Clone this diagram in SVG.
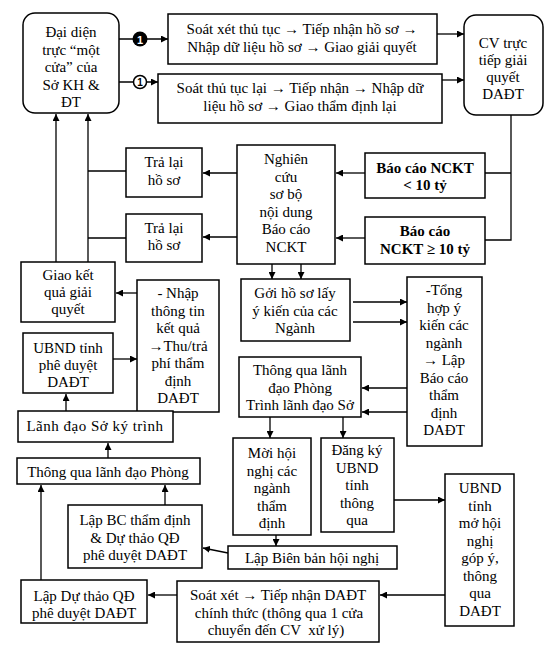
<svg xmlns="http://www.w3.org/2000/svg" width="550" height="650" viewBox="0 0 550 650">
<style>
.b{fill:#fff;stroke:#000;stroke-width:1.5}
.t{font-family:"Liberation Serif","Times New Roman",serif;font-size:15px;fill:#000;text-anchor:middle}
.bd{font-weight:bold}
.c{fill:none;stroke:#000;stroke-width:1.3}
</style>
<defs>
<marker id="ah" markerUnits="userSpaceOnUse" markerWidth="8" markerHeight="7" refX="7" refY="3.5" orient="auto">
<path d="M0,0 L7,3.5 L0,7 z" fill="#000"/>
</marker>
</defs>
<rect width="550" height="650" fill="#fff"/>

<g id="connectors">
<path class="c" d="M119,39 H168" marker-end="url(#ah)"/>
<path class="c" d="M119,82 H158" marker-end="url(#ah)"/>
<path class="c" d="M437,34 H464" marker-end="url(#ah)"/>
<path class="c" d="M442,80 H464" marker-end="url(#ah)"/>
<path class="c" d="M511,115 V240 H485 M511,173 H485"/>
<path class="c" d="M365,173 H336" marker-end="url(#ah)"/>
<path class="c" d="M365,238 H336" marker-end="url(#ah)"/>
<path class="c" d="M237,173 H203" marker-end="url(#ah)"/>
<path class="c" d="M237,237 H203" marker-end="url(#ah)"/>
<path class="c" d="M126,171 H88 M126,238 H88"/>
<path class="c" d="M56,262 V114" marker-end="url(#ah)"/>
<path class="c" d="M88,262 V114" marker-end="url(#ah)"/>
<path class="c" d="M137,293 H116" marker-end="url(#ah)"/>
<path class="c" d="M113,359 H137" marker-end="url(#ah)"/>
<path class="c" d="M66,411 V394" marker-end="url(#ah)"/>
<path class="c" d="M108,458 V443" marker-end="url(#ah)"/>
<path class="c" d="M165,505 V485" marker-end="url(#ah)"/>
<path class="c" d="M41,580 V485" marker-end="url(#ah)"/>
<path class="c" d="M177,595 H148" marker-end="url(#ah)"/>
<path class="c" d="M445,595 H380" marker-end="url(#ah)"/>
<path class="c" d="M228,553 L203,548" marker-end="url(#ah)"/>
<path class="c" d="M276,535 V546" marker-end="url(#ah)"/>
<path class="c" d="M394,500 H445" marker-end="url(#ah)"/>
<path class="c" d="M270,417 V438" marker-end="url(#ah)"/>
<path class="c" d="M343,417 V438" marker-end="url(#ah)"/>
<path class="c" d="M407,388 H362" marker-end="url(#ah)"/>
<path class="c" d="M407,412 H362" marker-end="url(#ah)"/>
<path class="c" d="M353,302 H407" marker-end="url(#ah)"/>
<path class="c" d="M353,322 H407" marker-end="url(#ah)"/>
<path class="c" d="M272,264 V279" marker-end="url(#ah)"/>
<path class="c" d="M301,264 V279" marker-end="url(#ah)"/>
<circle cx="140" cy="39" r="7.5" fill="#000"/>
<text x="140" y="43.5" font-family="Liberation Sans,Arial,sans-serif" font-size="11" font-weight="bold" fill="#fff" text-anchor="middle">1</text>
<circle cx="140" cy="82" r="6.5" fill="#fff" stroke="#000" stroke-width="1.5"/>
<text x="140" y="86" font-family="Liberation Sans,Arial,sans-serif" font-size="10" font-weight="bold" fill="#000" text-anchor="middle">1</text>
</g>

<g id="dai-dien">
<rect class="b" x="23" y="13" width="96" height="100" rx="12"/>
<text class="t" x="71" y="37">Đại diện</text>
<text class="t" x="71" y="54.5">trực “một</text>
<text class="t" x="71" y="72">cửa” của</text>
<text class="t" x="71" y="89.5">Sở KH &amp;</text>
<text class="t" x="71" y="107">ĐT</text>
</g>

<g id="soat-xet-1">
<rect class="b" x="168" y="14" width="269" height="50"/>
<text class="t" x="302" y="34">Soát xét thủ tục → Tiếp nhận hồ sơ →</text>
<text class="t" x="302" y="52">Nhập dữ liệu hồ sơ → Giao giải quyết</text>
</g>

<g id="soat-xet-2">
<rect class="b" x="158" y="74" width="284" height="49"/>
<text class="t" x="300" y="93">Soát thủ tục lại → Tiếp nhận → Nhập dữ</text>
<text class="t" x="300" y="111">liệu hồ sơ → Giao thẩm định lại</text>
</g>

<g id="cv-truc">
<rect class="b" x="464" y="15" width="79" height="100" rx="12"/>
<text class="t" x="503" y="48">CV trực</text>
<text class="t" x="503" y="65">tiếp giải</text>
<text class="t" x="503" y="82">quyết</text>
<text class="t" x="503" y="99">DAĐT</text>
</g>

<g id="bao-cao-duoi">
<rect class="b" x="365" y="153" width="120" height="45"/>
<text class="t bd" x="425" y="173">Báo cáo NCKT</text>
<text class="t bd" x="425" y="190">&lt; 10 tỷ</text>
</g>

<g id="bao-cao-tren">
<rect class="b" x="365" y="217" width="120" height="47"/>
<text class="t bd" x="425" y="236">Báo cáo</text>
<text class="t bd" x="425" y="254">NCKT ≥ 10 tỷ</text>
</g>

<g id="nghien-cuu">
<rect class="b" x="237" y="145" width="98" height="119"/>
<text class="t" x="286" y="164">Nghiên</text>
<text class="t" x="286" y="181.5">cứu</text>
<text class="t" x="286" y="199">sơ bộ</text>
<text class="t" x="286" y="216.5">nội dung</text>
<text class="t" x="286" y="234">Báo cáo</text>
<text class="t" x="286" y="251.5">NCKT</text>
</g>

<g id="tra-lai-1">
<rect class="b" x="126" y="148" width="76" height="49"/>
<text class="t" x="164" y="167">Trả lại</text>
<text class="t" x="164" y="185">hồ sơ</text>
</g>

<g id="tra-lai-2">
<rect class="b" x="126" y="214" width="76" height="48"/>
<text class="t" x="164" y="233">Trả lại</text>
<text class="t" x="164" y="250">hồ sơ</text>
</g>

<g id="giao-ket-qua">
<rect class="b" x="21" y="262" width="94" height="60"/>
<text class="t" x="68" y="280">Giao kết</text>
<text class="t" x="68" y="297">quả giải</text>
<text class="t" x="68" y="314">quyết</text>
</g>

<g id="nhap-thong-tin">
<rect class="b" x="137" y="280" width="82" height="132"/>
<text class="t" x="178" y="298">- Nhập</text>
<text class="t" x="178" y="315.5">thông tin</text>
<text class="t" x="178" y="333">kết quả</text>
<text class="t" x="178" y="350.5">→Thu/trả</text>
<text class="t" x="178" y="368">phí thẩm</text>
<text class="t" x="178" y="385.5">định</text>
<text class="t" x="178" y="403">DAĐT</text>
</g>

<g id="ubnd-phe-duyet">
<rect class="b" x="23" y="333" width="90" height="60"/>
<text class="t" x="68" y="353">UBND tỉnh</text>
<text class="t" x="68" y="370">phê duyệt</text>
<text class="t" x="68" y="387">DAĐT</text>
</g>

<g id="lanh-dao-so">
<rect class="b" x="18" y="411" width="155" height="31"/>
<text class="t" x="95" y="431" letter-spacing="0.5">Lãnh đạo Sở ký trình</text>
</g>

<g id="thong-qua-phong">
<rect class="b" x="17" y="458" width="183" height="26"/>
<text class="t" x="108" y="476.5">Thông qua lãnh đạo Phòng</text>
</g>

<g id="lap-bc">
<rect class="b" x="68" y="505" width="134" height="63"/>
<text class="t" x="135" y="525">Lập BC thẩm định</text>
<text class="t" x="135" y="543">&amp; Dự thảo QĐ</text>
<text class="t" x="135" y="560">phê duyệt DAĐT</text>
</g>

<g id="lap-du-thao">
<rect class="b" x="21" y="580" width="126" height="43"/>
<text class="t" x="84" y="601">Lập Dự thảo QĐ</text>
<text class="t" x="84" y="618">phê duyệt DAĐT</text>
</g>

<g id="soat-xet-chinh-thuc">
<rect class="b" x="177" y="581" width="202" height="61"/>
<text class="t" x="278" y="600">Soát xét → Tiếp nhận DAĐT</text>
<text class="t" x="279" y="618">chính thức (thông qua 1 cửa</text>
<text class="t" x="276" y="635" xml:space="preserve">chuyển đến CV  xử lý)</text>
</g>

<g id="lap-bien-ban">
<rect class="b" x="228" y="546" width="169" height="23"/>
<text class="t" x="312" y="563">Lập Biên bản hội nghị</text>
</g>

<g id="ubnd-mo-hoi-nghi">
<rect class="b" x="445" y="474" width="69" height="152"/>
<text class="t" x="480" y="493">UBND</text>
<text class="t" x="480" y="510.5">tỉnh</text>
<text class="t" x="480" y="528">mở hội</text>
<text class="t" x="480" y="545.5">nghị</text>
<text class="t" x="480" y="563">góp ý,</text>
<text class="t" x="480" y="580.5">thông</text>
<text class="t" x="480" y="598">qua</text>
<text class="t" x="480" y="615.5">DAĐT</text>
</g>

<g id="moi-hoi-nghi">
<rect class="b" x="233" y="438" width="78" height="97"/>
<text class="t" x="272" y="458">Mời hội</text>
<text class="t" x="272" y="475.5">nghị các</text>
<text class="t" x="272" y="493">ngành</text>
<text class="t" x="272" y="510.5">thẩm</text>
<text class="t" x="272" y="528">định</text>
</g>

<g id="dang-ky-ubnd">
<rect class="b" x="321" y="438" width="73" height="94"/>
<text class="t" x="357" y="455">Đăng ký</text>
<text class="t" x="357" y="472.5">UBND</text>
<text class="t" x="357" y="490">tỉnh</text>
<text class="t" x="357" y="507.5">thông</text>
<text class="t" x="357" y="525">qua</text>
</g>

<g id="thong-qua-trinh">
<rect class="b" x="239" y="357" width="122" height="60"/>
<text class="t" x="300" y="375">Thông qua lãnh</text>
<text class="t" x="300" y="392.5">đạo Phòng</text>
<text class="t" x="300" y="410">Trình lãnh đạo Sở</text>
</g>

<g id="tong-hop">
<rect class="b" x="407" y="277" width="75" height="169"/>
<text class="t" x="444" y="295">-Tổng</text>
<text class="t" x="444" y="312.5">hợp ý</text>
<text class="t" x="444" y="330">kiến các</text>
<text class="t" x="444" y="347.5">ngành</text>
<text class="t" x="444" y="365">→ Lập</text>
<text class="t" x="444" y="382.5">Báo cáo</text>
<text class="t" x="444" y="400">thẩm</text>
<text class="t" x="444" y="417.5">định</text>
<text class="t" x="444" y="435">DAĐT</text>
</g>

<g id="goi-ho-so">
<rect class="b" x="241" y="279" width="109" height="62"/>
<text class="t" x="295" y="298">Gởi hồ sơ lấy</text>
<text class="t" x="295" y="316">ý kiến của các</text>
<text class="t" x="295" y="333">Ngành</text>
</g>
</svg>
